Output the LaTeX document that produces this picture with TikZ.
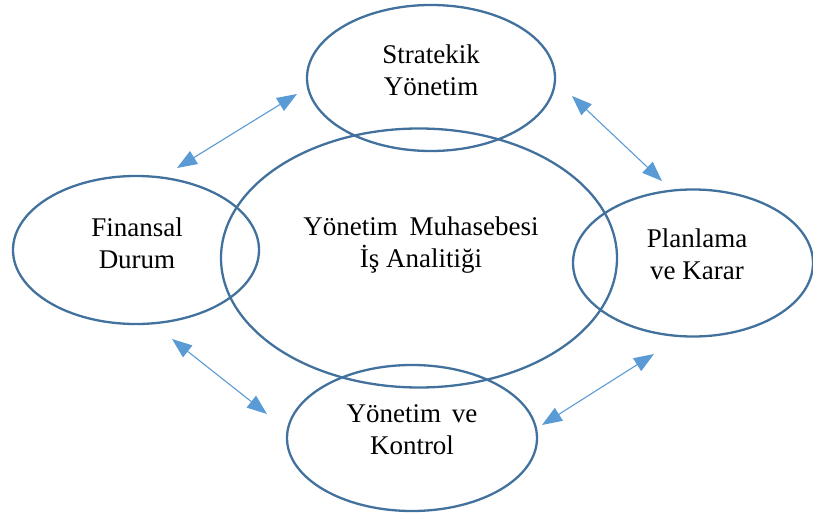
\documentclass[tikz,border=0pt]{standalone}
\usepackage{fontspec}
\setmainfont{Liberation Serif}
\usetikzlibrary{shapes.geometric,arrows.meta}

\definecolor{ringblue}{HTML}{41719C}
\definecolor{linkblue}{HTML}{5B9BD5}

\tikzset{
  ring/.style={draw=ringblue, line width=2.3bp, ellipse, inner sep=0pt},
  caption/.style={align=center, font=\fontsize{27bp}{32bp}\selectfont, inner sep=0pt},
  link/.style={draw=linkblue, line width=1.1bp,
    {Triangle[length=20bp,width=15bp]}-{Triangle[length=20bp,width=15bp]}}
}

\begin{document}
\begin{tikzpicture}[x=1bp,y=-1bp]
  \useasboundingbox (0,0) rectangle (813,515);

  % outlines
  \node[ring, minimum width=248bp, minimum height=146bp] (strat) at (431,78) {};
  \node[ring, minimum width=246bp, minimum height=148bp] (fin)   at (136,250) {};
  \node[ring, minimum width=396bp, minimum height=259bp] (core)  at (419,258) {};
  \node[ring, minimum width=240bp, minimum height=147bp] (plan)  at (693,263) {};
  \node[ring, minimum width=250bp, minimum height=146bp] (ctrl)  at (412,438) {};

  % captions
  \node[caption] (strat-t) at (431,70)  {Stratekik\\Yönetim};
  \node[caption] (fin-t)   at (137,243) {Finansal\\Durum};
  \node[caption] (core-t)  at (421,245) {Yönetim\hspace{5bp} Muhasebesi\\İş Analitiği};
  \node[caption] (plan-t)  at (697,254) {Planlama\\ve Karar};
  \node[caption] (ctrl-t)  at (412,430) {Yönetim\hspace{4bp} ve\\Kontrol};

  % end points of the two-way links
  \coordinate (l1a) at (177,168);
  \coordinate (l1b) at (297,94);
  \coordinate (l2a) at (572,96);
  \coordinate (l2b) at (662,181);
  \coordinate (l3a) at (172,339);
  \coordinate (l3b) at (267,414);
  \coordinate (l4a) at (542,425);
  \coordinate (l4b) at (654,354);

  \draw[link] (l1a) -- (l1b);
  \draw[link] (l2a) -- (l2b);
  \draw[link] (l3a) -- (l3b);
  \draw[link] (l4a) -- (l4b);
\end{tikzpicture}
\end{document}
